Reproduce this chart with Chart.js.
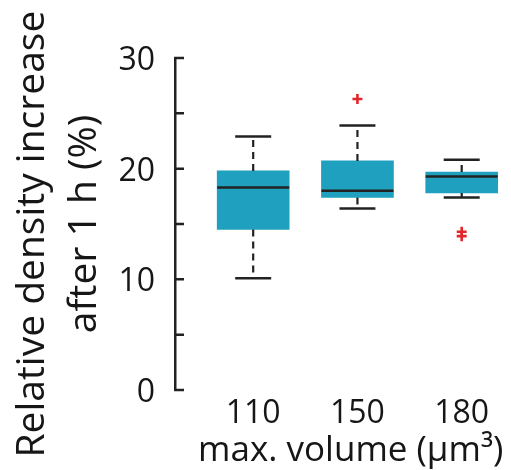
<!DOCTYPE html>
<html>
<head>
<meta charset="utf-8">
<script src="https://cdn.jsdelivr.net/npm/chart.js@4"></script>
<style>
  html, body { margin: 0; padding: 0; background: #fff; }
  #wrap { width: 511px; height: 470px; }
</style>
</head>
<body>
<div id="wrap"><canvas id="grafico"></canvas></div>
<script>
// categorias (volume máximo, µm³)
const categorias = ['110', '150', '180'];
// estatísticas de cada caixa (%)
const quartil1 = [14.5, 17.4, 17.8];
const quartil3 = [19.8, 20.7, 19.7];
const mediana = [18.3, 18.0, 19.3];
const bigodeInf = [10.1, 16.4, 17.4];
const bigodeSup = [22.9, 23.9, 20.8];
// pontos fora dos bigodes, por categoria
const outliers = [[], [26.3], [14.3, 13.9]];
// marcas do eixo y
const ticksY = [0, 5, 10, 15, 20, 25, 30];

const posicoes = categorias.map((c, i) => i + 1);
const caixas = posicoes.map((x, i) => ({ x: x, y: [quartil1[i], quartil3[i]] }));
const pontosOutlier = [];
outliers.forEach((lista, i) => lista.forEach(v => pontosOutlier.push({ x: posicoes[i], y: v })));

const fonte = '"Open Sans", "Noto Sans", sans-serif';
const corTexto = '#161616';

// bigodes, medianas e marcas internas do eixo y
const desenharBigodes = {
  id: 'bigodes',
  afterDatasetsDraw(chart) {
    const ctx = chart.ctx;
    const xs = chart.scales.x, ys = chart.scales.y;
    ctx.save();
    ctx.strokeStyle = '#222';
    posicoes.forEach((p, i) => {
      const cx = xs.getPixelForValue(p);
      ctx.lineWidth = 2.2;
      ctx.setLineDash([7, 5]);
      ctx.beginPath();
      ctx.moveTo(cx, ys.getPixelForValue(quartil3[i]));
      ctx.lineTo(cx, ys.getPixelForValue(bigodeSup[i]));
      ctx.moveTo(cx, ys.getPixelForValue(quartil1[i]));
      ctx.lineTo(cx, ys.getPixelForValue(bigodeInf[i]));
      ctx.stroke();
      ctx.setLineDash([]);
      ctx.lineWidth = 2.5;
      ctx.beginPath();
      [bigodeSup[i], bigodeInf[i]].forEach(v => {
        const y = ys.getPixelForValue(v);
        ctx.moveTo(cx - 18, y);
        ctx.lineTo(cx + 18, y);
      });
      const ym = ys.getPixelForValue(mediana[i]);
      ctx.moveTo(cx - 36, ym);
      ctx.lineTo(cx + 36, ym);
      ctx.stroke();
    });
    // marcas para dentro
    const x0 = chart.chartArea.left;
    ctx.lineWidth = 2.5;
    ctx.beginPath();
    ticksY.forEach(v => {
      const y = ys.getPixelForValue(v);
      ctx.moveTo(x0 - 1, y);
      ctx.lineTo(x0 + 9, y);
    });
    ctx.stroke();
    ctx.restore();
  }
};

new Chart(document.getElementById('grafico'), {
  type: 'bar',
  data: {
    datasets: [{
      type: 'bar',
      data: caixas,
      backgroundColor: '#1fa0be',
      borderWidth: 0,
      barThickness: 72
    }, {
      type: 'scatter',
      data: pontosOutlier,
      pointStyle: 'cross',
      radius: 5,
      borderWidth: 2.6,
      borderColor: '#e3262b'
    }]
  },
  options: {
    responsive: true,
    maintainAspectRatio: false,
    animation: false,
    layout: { padding: { top: 58, right: 1, bottom: 0, left: 0 } },
    plugins: { legend: { display: false }, tooltip: { enabled: false } },
    scales: {
      x: {
        type: 'linear',
        offset: false,
        min: 0.25,
        max: 3.4,
        grid: { display: false, offset: false },
        border: { display: false },
        afterBuildTicks: s => { s.ticks = posicoes.map(v => ({ value: v })); },
        afterFit: s => { s.height = 80; },
        ticks: {
          autoSkip: false,
          maxRotation: 0,
          padding: -3,
          color: corTexto,
          font: { family: fonte, size: 32 },
          callback: v => categorias[v - 1]
        },
        title: {
          display: true,
          text: 'max. volume (µm³)',
          align: 'end',
          color: corTexto,
          padding: 0,
          font: { family: fonte, size: 35, lineHeight: 1.1 }
        }
      },
      y: {
        min: 0,
        max: 30,
        grid: { display: false },
        border: { display: true, color: '#222', width: 2.5 },
        afterFit: s => { s.width = 175; },
        ticks: {
          stepSize: 5,
          padding: 12,
          labelOffset: 3,
          color: corTexto,
          font: { family: fonte, size: 32 },
          callback: v => (v % 10 === 0 ? v : '')
        },
        title: {
          display: true,
          text: ['Relative density increase  ', 'after 1 h (%)'],
          color: corTexto,
          padding: { top: 7, bottom: 0 },
          font: { family: fonte, size: 39, lineHeight: 1.33 }
        }
      }
    }
  },
  plugins: [desenharBigodes]
});
</script>
</body>
</html>
